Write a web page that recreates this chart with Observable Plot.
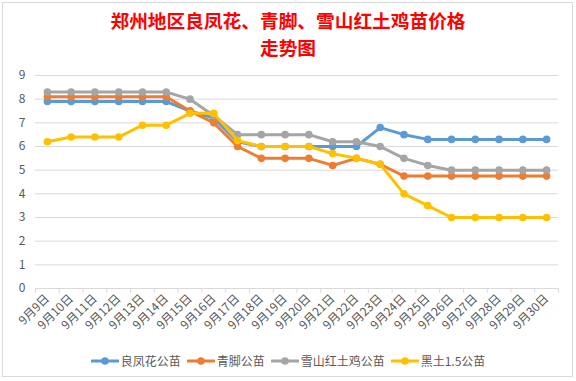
<!DOCTYPE html>
<html>
<head>
<meta charset="utf-8">
<script src="https://cdn.jsdelivr.net/npm/d3@7"></script>
<script src="https://cdn.jsdelivr.net/npm/@observablehq/plot@0.6"></script>
<style>
  html, body { margin: 0; padding: 0; background: #fff; }
  #wrap { position: relative; width: 576px; height: 381px; overflow: hidden; font-family: "Noto Sans CJK SC", "Noto Sans", sans-serif; }
  #frame { position: absolute; left: 2px; top: 2px; width: 569px; height: 373px; border: 1px solid #d9d9d9; box-sizing: content-box; }
  .title { position: absolute; left: 0; width: 576px; height: 20px; text-align: center; color: #ff0000; font-weight: bold; font-size: 18.7px; line-height: 20px; white-space: nowrap; }
  #title1 { top: 10px; }
  #title2 { top: 37px; }
  #chart { position: absolute; left: 0; top: 0; }
  #legend { position: absolute; left: 0; top: 352px; width: 576px; display: flex; justify-content: center; align-items: center; font-size: 12px; color: #595959; }
  .item { display: flex; align-items: center; margin: 0 3px; }
  .item svg { margin-right: 2px; }
</style>
</head>
<body>
<div id="wrap">
  <div id="frame"></div>
  <div id="chart"></div>
  <div class="title" id="title1">郑州地区良凤花、青脚、雪山红土鸡苗价格</div>
  <div class="title" id="title2">走势图</div>
  <div id="legend"></div>
</div>
<script>
const dates = ["9月9日","9月10日","9月11日","9月12日","9月13日","9月14日","9月15日","9月16日","9月17日","9月18日","9月19日","9月20日","9月21日","9月22日","9月23日","9月24日","9月25日","9月26日","9月27日","9月28日","9月29日","9月30日"];
const seriesNames = ["良凤花公苗","青脚公苗","雪山红土鸡公苗","黑土1.5公苗"];
const seriesColors = ["#5B9BD5","#ED7D31","#A5A5A5","#FFC000"];
const liangfenghua = [7.9,7.9,7.9,7.9,7.9,7.9,7.5,7.2,6.2,6.0,6.0,6.0,6.0,6.0,6.8,6.5,6.3,6.3,6.3,6.3,6.3,6.3];
const qingjiao = [8.1,8.1,8.1,8.1,8.1,8.1,7.5,7.0,6.0,5.5,5.5,5.5,5.2,5.5,5.25,4.75,4.75,4.75,4.75,4.75,4.75,4.75];
const xueshan = [8.3,8.3,8.3,8.3,8.3,8.3,8.0,7.3,6.5,6.5,6.5,6.5,6.2,6.2,6.0,5.5,5.2,5.0,5.0,5.0,5.0,5.0];
const heitu = [6.2,6.4,6.4,6.4,6.9,6.9,7.4,7.4,6.25,6.0,6.0,6.0,5.7,5.5,5.25,4.0,3.5,3.0,3.0,3.0,3.0,3.0];
const yTicks = [0,1,2,3,4,5,6,7,8,9];

const allValues = [liangfenghua, qingjiao, xueshan, heitu];
const rows = [];
allValues.forEach((vals, s) => vals.forEach((v, i) => rows.push({series: seriesNames[s], i, date: dates[i], value: v})));

const idx = d3.range(dates.length);
const boundaries = d3.range(dates.length + 1).map(k => k - 0.5);

const marks = [
  Plot.gridY(yTicks, {stroke: "#d9d9d9", strokeOpacity: 1, strokeWidth: 1}),
  Plot.axisY(yTicks, {tickSize: 0, tickPadding: 10, fill: "#595959", fontSize: 12, label: null}),
  Plot.axisX(boundaries, {tickSize: 5, tickFormat: () => "", stroke: "#d9d9d9", label: null}),
  Plot.axisX(idx, {tickSize: 0, tickPadding: 8, tickRotate: -45, tickFormat: i => dates[i], fill: "#595959", fontSize: 12, label: null})
];
seriesNames.forEach(name => {
  const data = rows.filter(r => r.series === name);
  marks.push(Plot.line(data, {x: "i", y: "value", stroke: "series", strokeWidth: 3, strokeLinejoin: "round", strokeLinecap: "round"}));
  marks.push(Plot.dot(data, {x: "i", y: "value", fill: "series", r: 3.8, stroke: null}));
});

const chart = Plot.plot({
  width: 576,
  height: 381,
  marginLeft: 35,
  marginRight: 18,
  marginTop: 75,
  marginBottom: 93,
  style: {background: "transparent", fontFamily: "'Noto Sans CJK SC', 'Noto Sans', sans-serif", overflow: "visible"},
  x: {type: "linear", domain: [-0.5, dates.length - 0.5], axis: null},
  y: {domain: [0, 9], axis: null},
  color: {domain: seriesNames, range: seriesColors},
  marks
});
document.getElementById("chart").appendChild(chart);

const legend = document.getElementById("legend");
seriesNames.forEach((name, s) => {
  const item = document.createElement("div");
  item.className = "item";
  item.innerHTML = `<svg width="28" height="10"><line x1="1" y1="5" x2="27" y2="5" stroke="${seriesColors[s]}" stroke-width="3" stroke-linecap="round"/><circle cx="14" cy="5" r="3.8" fill="${seriesColors[s]}"/></svg><span>${name}</span>`;
  legend.appendChild(item);
});
</script>
</body>
</html>
